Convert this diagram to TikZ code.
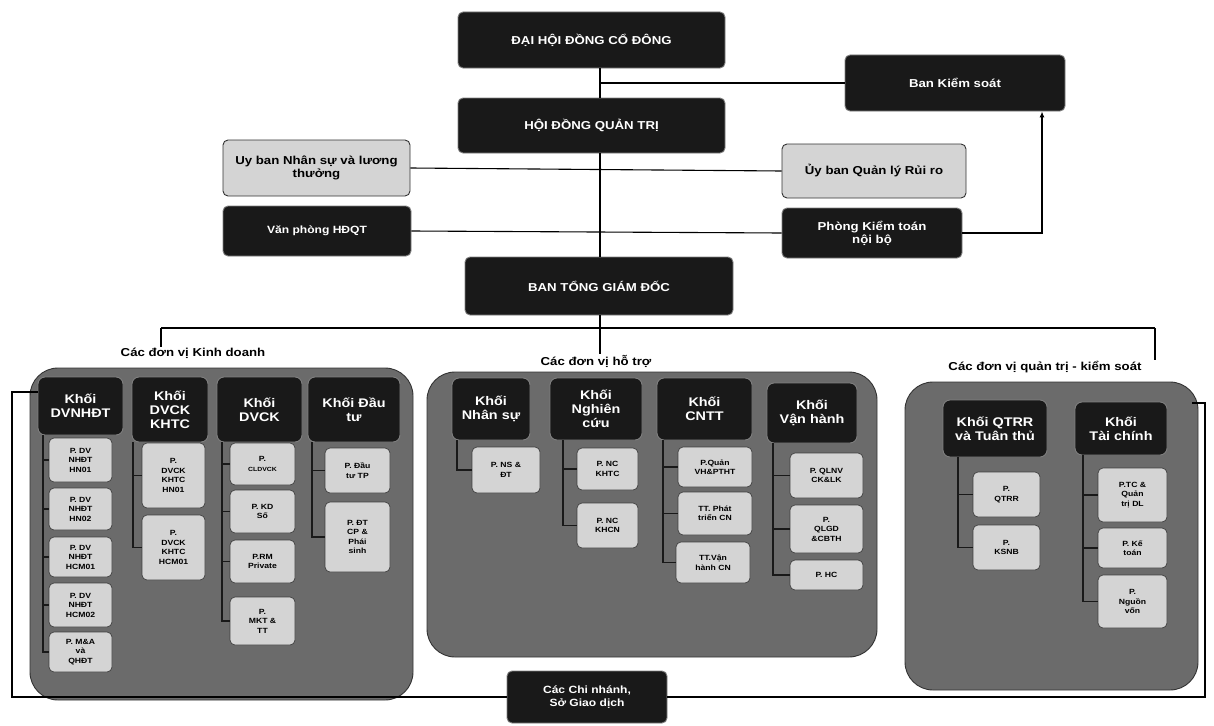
\documentclass[tikz,border=0pt]{standalone}
\usepackage{fontspec}
\setmainfont{Liberation Sans}[FakeStretch=1.15]
\usetikzlibrary{arrows.meta}
\tikzset{
  dark/.style={draw=black!50, line width=0.9pt, fill=black!90, rounded corners=5pt, text=white, font=\bfseries\fontsize{11.5}{13}\selectfont, align=center, inner sep=1pt},
  light/.style={draw=black!80, line width=0.9pt, fill=black!17, rounded corners=5pt, text=black, font=\bfseries\fontsize{11.5}{13}\selectfont, align=center, inner sep=1pt},
  khoi/.style={dark, font=\bfseries\fontsize{12.5}{14}\selectfont, rounded corners=7pt},
  panelbox/.style={fill=black!58, draw=black!80, line width=0.9pt, rounded corners=28pt},
  sub/.style={draw=black!75, line width=0.7pt, fill=black!17, rounded corners=5pt, text=black, font=\bfseries\fontsize{7.5}{9.5}\selectfont, align=center, inner sep=1pt},
  grp/.style={font=\bfseries\fontsize{11.5}{13}\selectfont, inner sep=1pt},
  conn/.style={draw=black, line width=1.1pt},
  tree/.style={draw=black!90, line width=1.2pt},
}
\newcommand{\bx}[6]{\node[#1, minimum width=#4-#3, minimum height=#6-#5] (#2) at ({(#3+#4)/2},{(#5+#6)/2})}
\begin{document}
\begin{tikzpicture}[x=1pt,y=-1pt]
\useasboundingbox (0,0) rectangle (1214,725);
% top
\bx{dark}{dhd}{458}{725}{12}{68} {ĐẠI HỘI ĐỒNG CỔ ĐÔNG};
\bx{dark}{hdqt}{458}{725}{98}{153} {HỘI ĐỒNG QUẢN TRỊ};
\bx{dark}{bks}{845}{1065}{55}{111} {Ban Kiểm soát};
\bx{light}{uns}{223}{410}{140}{196} {Uy ban Nhân sự và lương\\thưởng};
\bx{light}{uql}{782}{966}{144}{198} {Ủy ban Quản lý Rủi ro};
\bx{dark, font=\bfseries\fontsize{10.5}{12}\selectfont}{vp}{223}{411}{206}{256} {Văn phòng HĐQT};
\bx{dark}{pkt}{782}{962}{208}{258} {Phòng Kiểm toán\\nội bộ};
\bx{dark}{tgd}{465}{733}{257}{315} {BAN TỔNG GIÁM ĐỐC};
\coordinate (t) at (600,0);
\coordinate (ak) at (1042,0);
\draw[conn] (t |- dhd.south) -- (t |- hdqt.north);
\draw[conn] (t |- hdqt.south) -- (t |- tgd.north);
\draw[conn] (t |- bks.west) -- (bks.west);
\draw[conn] (uns.east) -- (uql.west);
\draw[conn] (vp.east) -- (pkt.west);
\draw[conn, -{Latex[length=6pt,width=5pt]}] (pkt.east) -| (ak |- bks.south);
% group labels
\node[grp] (l1) at (193,353) {Các đơn vị Kinh doanh};
\node[grp] (l2) at (596,361) {Các đơn vị hỗ trợ};
\node[grp] (l3) at (1045,367) {Các đơn vị quản trị - kiểm soát};
\coordinate (k1) at (161,328);
\coordinate (k3) at (1155,328);
\draw[conn] (k1) -- (k3);
\draw[conn] (k1) -- (k1 |- l1.north);
\draw[conn] (k3) -- (k3 |- l3.north);
\draw[conn] (t |- tgd.south) -- (t |- l2.north);
% panels
\draw[panelbox] (30,368) rectangle (413,700);
\draw[panelbox] (427,372) rectangle (877,657);
\draw[panelbox] (905,382) rectangle (1198,690);
% panel 1 headers
\bx{khoi}{k11}{38}{123}{377}{435} {Khối\\DVNHĐT};
\bx{khoi}{k12}{132}{208}{377}{442} {Khối\\DVCK\\KHTC};
\bx{khoi}{k13}{217}{302}{377}{442} {Khối\\DVCK};
\bx{khoi}{k14}{308}{400}{377}{442} {Khối Đầu\\tư};
% panel 1 subs
\bx{sub}{a1}{49}{112}{438}{482} {P. DV\\NHĐT\\HN01};
\bx{sub}{a2}{49}{112}{488}{530} {P. DV\\NHĐT\\HN02};
\bx{sub}{a3}{49}{112}{537}{577} {P. DV\\NHĐT\\HCM01};
\bx{sub}{a4}{49}{112}{583}{627} {P. DV\\NHĐT\\HCM02};
\bx{sub}{a5}{49}{112}{632}{672} {P. M\&A\\và\\QHĐT};
\bx{sub}{b1}{142}{205}{443}{508} {P.\\DVCK\\KHTC\\HN01};
\bx{sub}{b2}{142}{205}{515}{580} {P.\\DVCK\\KHTC\\HCM01};
\bx{sub}{c1}{230}{295}{443}{485} {P.\\{\fontsize{6}{8}\selectfont CLDVCK}};
\bx{sub}{c2}{230}{295}{490}{533} {P. KD\\Số};
\bx{sub}{c3}{230}{295}{540}{583} {P.RM\\Private};
\bx{sub}{c4}{230}{295}{597}{645} {P.\\MKT \&\\TT};
\bx{sub}{d1}{325}{390}{448}{493} {P. Đầu\\tư TP};
\bx{sub}{d2}{325}{390}{502}{572} {P. ĐT\\CP \&\\Phái\\sinh};
\coordinate (x11) at (43,0);
\coordinate (x12) at (133,0);
\coordinate (x13) at (222,0);
\coordinate (x14) at (312,0);
\foreach \s in {a1,a2,a3,a4,a5} \draw[tree] (x11 |- k11.south) |- (\s.west);
\foreach \s in {b1,b2} \draw[tree] (x12 |- k12.south) |- (\s.west);
\foreach \s in {c1,c2,c3,c4} \draw[tree] (x13 |- k13.south) |- (\s.west);
\foreach \s in {d1,d2} \draw[tree] (x14 |- k14.south) |- (\s.west);
% panel 2 headers
\bx{khoi}{k21}{452}{530}{378}{440} {Khối\\Nhân sự};
\bx{khoi}{k22}{550}{642}{378}{440} {Khối\\Nghiên\\cứu};
\bx{khoi}{k23}{657}{752}{378}{440} {Khối\\CNTT};
\bx{khoi}{k24}{767}{857}{383}{443} {Khối\\Vận hành};
\bx{sub}{e1}{472}{540}{447}{493} {P. NS \&\\ĐT};
\bx{sub}{f1}{577}{638}{448}{490} {P. NC\\KHTC};
\bx{sub}{f2}{577}{638}{503}{548} {P. NC\\KHCN};
\bx{sub}{g1}{678}{752}{447}{487} {P.Quản\\VH\&PTHT};
\bx{sub}{g2}{678}{752}{492}{535} {TT. Phát\\triển CN};
\bx{sub}{g3}{676}{750}{542}{583} {TT.Vận\\hành CN};
\bx{sub}{h1}{790}{863}{453}{498} {P. QLNV\\CK\&LK};
\bx{sub}{h2}{790}{863}{505}{553} {P.\\QLGD\\\&CBTH};
\bx{sub}{h3}{790}{863}{560}{590} {P. HC};
\coordinate (x21) at (457,0);
\coordinate (x22) at (563,0);
\coordinate (x23) at (663,0);
\coordinate (x24) at (773,0);
\draw[tree] (x21 |- k21.south) |- (e1.west);
\foreach \s in {f1,f2} \draw[tree] (x22 |- k22.south) |- (\s.west);
\foreach \s in {g1,g2,g3} \draw[tree] (x23 |- k23.south) |- (\s.west);
\foreach \s in {h1,h2,h3} \draw[tree] (x24 |- k24.south) |- (\s.west);
% panel 3
\bx{khoi}{k31}{943}{1047}{400}{457} {Khối QTRR\\và Tuân thủ};
\bx{khoi}{k32}{1075}{1167}{402}{455} {Khối\\Tài chính};
\bx{sub}{i1}{973}{1040}{472}{517} {P.\\QTRR};
\bx{sub}{i2}{973}{1040}{525}{570} {P.\\KSNB};
\bx{sub}{j1}{1098}{1167}{468}{522} {P.TC \&\\Quản\\trị DL};
\bx{sub}{j2}{1098}{1167}{528}{568} {P. Kế\\toán};
\bx{sub}{j3}{1098}{1167}{575}{628} {P.\\Nguồn\\vốn};
\coordinate (x31) at (958,0);
\coordinate (x32) at (1083,0);
\foreach \s in {i1,i2} \draw[tree] (x31 |- k31.south) |- (\s.west);
\foreach \s in {j1,j2,j3} \draw[tree] (x32 |- k32.south) |- (\s.west);
% branches
\bx{dark, font=\bfseries\fontsize{10.5}{12.5}\selectfont}{cn}{507}{667}{671}{723} {Các Chi nhánh,\\Sở Giao dịch};
\coordinate (lb) at (12,392);
\coordinate (rb) at (1205,403);
\coordinate (rb2) at (1192,403);
\draw[conn] (k11.west |- lb) -- (lb) |- (cn.west);
\draw[conn] (rb2) -- (rb) |- (cn.east);
\end{tikzpicture}
\end{document}
